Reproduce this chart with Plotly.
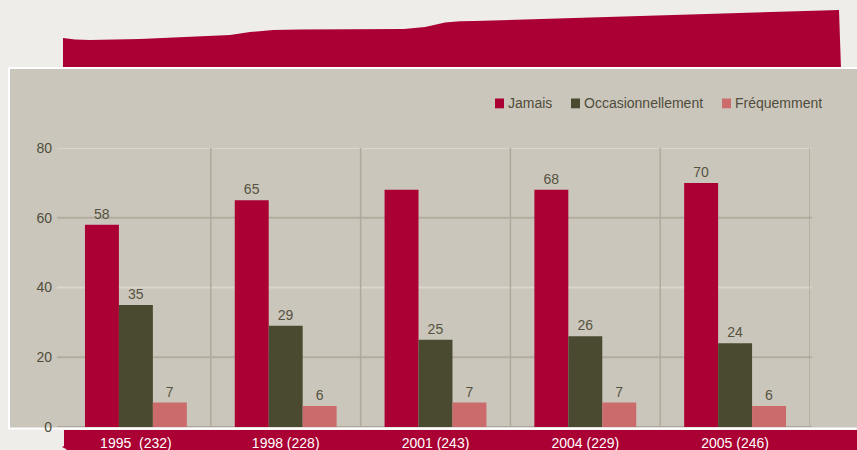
import plotly.graph_objects as go

categories = ["1995  (232)", "1998 (228)", "2001 (243)", "2004 (229)", "2005 (246)"]
series_names = ["Jamais", "Occasionnellement", "Fréquemment"]
jamais = [58, 65, 68, 68, 70]
occasionnellement = [35, 29, 25, 26, 24]
frequemment = [7, 6, 7, 7, 6]
jamais_labels = ["58", "65", "", "68", "70"]
occ_labels = ["35", "29", "25", "26", "24"]
freq_labels = ["7", "6", "7", "7", "6"]
y_ticks = [0, 20, 40, 60, 80]

W, H = 857, 450
L, R, T, B = 61, 47, 148, 23
PW, PH = W - L - R, H - T - B


def px(x):
    return (x - L) / PW


def py(y):
    return (H - B - y) / PH


colors = ["#AA0033", "#4A4A30", "#CB6B6B"]
font_family = "Liberation Sans, Arial, sans-serif"
text_col = "#4F4D3C"

fig = go.Figure()
for name, vals, labs, col in zip(series_names, [jamais, occasionnellement, frequemment],
                                 [jamais_labels, occ_labels, freq_labels], colors):
    fig.add_trace(go.Bar(
        x=categories, y=vals, name=name, marker=dict(color=col, line=dict(width=0)),
        text=labs, textposition="outside", cliponaxis=False,
        textfont=dict(family=font_family, size=14, color="#55533F"),
        showlegend=False,
    ))

shapes = []
# top decorative crimson wave
pts = [(63, 68), (63, 38), (75, 39.5), (90, 40), (140, 39), (230, 35), (250, 32),
       (273, 30), (300, 29.5), (404, 29), (425, 27), (434, 25), (445, 22.5),
       (460, 21.3), (475, 21), (839, 10), (841, 69)]
path = "M " + " L ".join(f"{px(x):.5f},{py(y):.5f}" for x, y in pts) + " Z"
shapes.append(dict(type="path", path=path, xref="paper", yref="paper",
                   fillcolor="#AA0033", line=dict(width=0), layer="below"))
# panel with white border
shapes.append(dict(type="rect", xref="paper", yref="paper", x0=px(8), x1=px(880), y0=py(429.5), y1=py(67),
                   fillcolor="#FFFFFF", line=dict(width=0), layer="below"))
shapes.append(dict(type="rect", xref="paper", yref="paper", x0=px(10), x1=px(880), y0=py(427.5), y1=py(69),
                   fillcolor="#CBC6BB", line=dict(width=0), layer="below"))
# bottom crimson band
band = [(64, 430), (880, 430), (880, 455), (70, 455), (66, 449), (62, 447), (64, 446)]
bpath = "M " + " L ".join(f"{px(x):.5f},{py(y):.5f}" for x, y in band) + " Z"
shapes.append(dict(type="path", path=bpath, xref="paper", yref="paper",
                   fillcolor="#AA0033", line=dict(width=0), layer="below"))
# horizontal gridlines
grid_cols = ["#ADA799", "#B3AC9E", "#DAD6CE", "#B3AC9E", "#DAD6CE"]
for v, c in zip(y_ticks, grid_cols):
    shapes.append(dict(type="line", xref="paper", yref="y", x0=px(57), x1=px(812), y0=v, y1=v,
                       line=dict(color=c, width=2), layer="below"))
# vertical category separators
for i in range(len(categories)):
    shapes.append(dict(type="line", xref="x", yref="y", x0=i + 0.5, x1=i + 0.5, y0=0, y1=y_ticks[-1],
                       line=dict(color="#AFA99B", width=1.5), layer="below"))

# legend (squares + labels)
legend_x = [495, 571, 722]
annotations = []
for name, col, lx in zip(series_names, colors, legend_x):
    shapes.append(dict(type="rect", xref="paper", yref="paper", x0=px(lx), x1=px(lx + 9),
                       y0=py(108.3), y1=py(98.5), fillcolor=col, line=dict(width=0), layer="above"))
    annotations.append(dict(text=name, xref="paper", yref="paper", x=px(lx + 11), y=py(102.5),
                            xanchor="left", yanchor="middle", showarrow=False,
                            font=dict(family=font_family, size=14, color=text_col)))

fig.update_layout(
    width=W, height=H, autosize=False,
    margin=dict(l=L, r=R, t=T, b=B, pad=0, autoexpand=False),
    paper_bgcolor="#EEEDE9",
    plot_bgcolor="rgba(0,0,0,0)",
    barmode="group", bargap=0.32, bargroupgap=0,
    font=dict(family=font_family, size=14, color=text_col),
    shapes=shapes,
    annotations=annotations,
    showlegend=False,
    xaxis=dict(showgrid=False, zeroline=False, showline=False, ticks="", ticklabelstandoff=6,
               automargin=False,
               tickfont=dict(color="#FFFFFF", size=14, family=font_family),
               range=[-0.5, len(categories) - 0.5], fixedrange=True),
    yaxis=dict(range=[0, 80], tickvals=y_ticks, showgrid=False, zeroline=False, showline=False,
               ticks="", ticklabelstandoff=8, automargin=False,
               tickfont=dict(color=text_col, size=14, family=font_family), fixedrange=True),
)

fig.write_html("out.html", config={"displayModeBar": False},
               post_script="document.body.style.margin='0';document.body.style.padding='0';")
